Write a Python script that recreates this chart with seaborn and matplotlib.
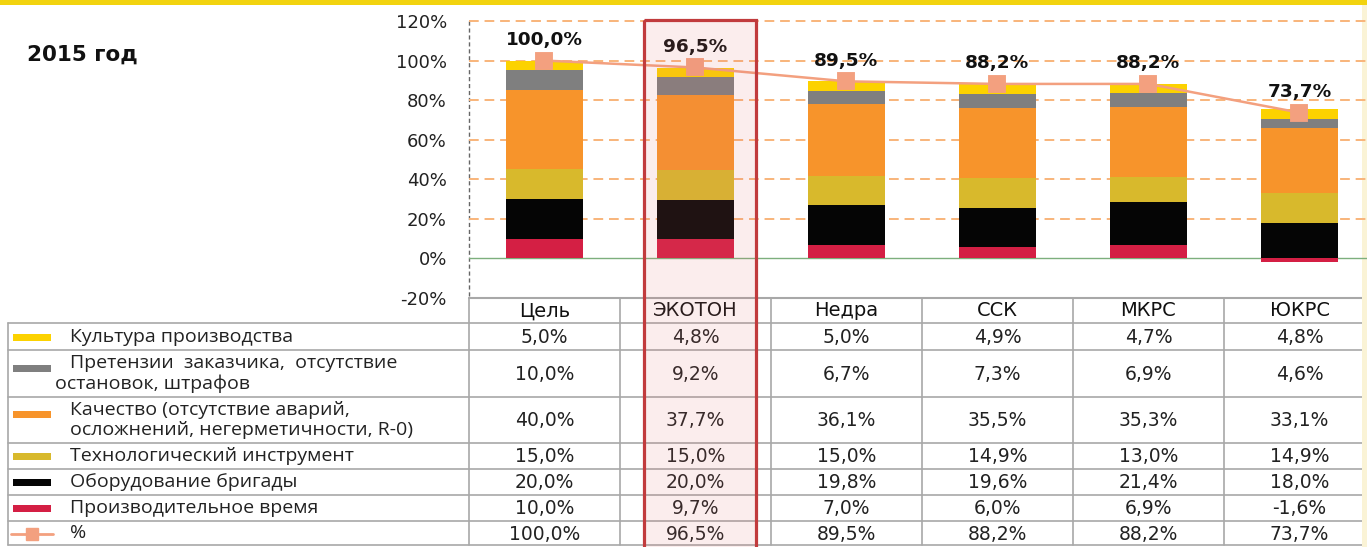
import numpy as np
import seaborn as sns
import matplotlib.pyplot as plt
from matplotlib.patches import Rectangle
from matplotlib.lines import Line2D

# Data (percent)
companies = ['Цель', 'ЭКОТОН', 'Недра', 'ССК', 'МКРС', 'ЮКРС']
culture = [5.0, 4.8, 5.0, 4.9, 4.7, 4.8]
claims = [10.0, 9.2, 6.7, 7.3, 6.9, 4.6]
quality = [40.0, 37.7, 36.1, 35.5, 35.3, 33.1]
tools = [15.0, 15.0, 15.0, 14.9, 13.0, 14.9]
equipment = [20.0, 20.0, 19.8, 19.6, 21.4, 18.0]
productive = [10.0, 9.7, 7.0, 6.0, 6.9, -1.6]
total = [100.0, 96.5, 89.5, 88.2, 88.2, 73.7]

row_labels = [
    ['Культура производства'],
    ['Претензии  заказчика,  отсутствие', 'остановок, штрафов'],
    ['Качество (отсутствие аварий,', 'осложнений, негерметичности, R-0)'],
    ['Технологический инструмент'],
    ['Оборудование бригады'],
    ['Производительное время'],
    ['%'],
]
colors = ['#FCD200', '#7F7F7F', '#F7942B', '#D8B92C', '#050505', '#D41F44']
line_color = '#F3A07F'

sns.set_style('white')
plt.rcParams['font.family'] = ['DejaVu Sans']

W, H = 1367, 547
fig = plt.figure(figsize=(W / 100, H / 100), dpi=100)

# background axes in pixel coordinates for the table and decorations
bg = fig.add_axes([0, 0, 1, 1])
bg.set_xlim(0, W)
bg.set_ylim(H, 0)
bg.axis('off')

bg.add_patch(Rectangle((0, 0), W, 5, color='#F2D30F', lw=0))
bg.add_patch(Rectangle((1362, 5), 5, H, color='#FAF3D6', lw=0, zorder=5))
bg.text(27, 55, '2015 год', fontsize=15.5, fontweight='bold', va='center', color='#111111')

# chart axes
left_px, col_w = 469, 151
top_px, bot_px = 21, 298
ax = fig.add_axes([left_px / W, (H - bot_px) / H, 6 * col_w / W, (bot_px - top_px) / H])
ax.patch.set_alpha(0)

# stacked bars: draw cumulative heights from top layer down
layers = [productive, equipment, tools, quality, claims, culture]
layer_colors = colors[::-1]
pos = np.clip(np.array(layers), 0, None)
cum = np.cumsum(pos, axis=0)
for k in range(len(layers) - 1, 0, -1):
    sns.barplot(x=companies, y=cum[k], color=layer_colors[k], width=0.51,
                saturation=1, linewidth=0, ax=ax, zorder=2)
sns.barplot(x=companies, y=productive, color=layer_colors[0], width=0.51,
            saturation=1, linewidth=0, ax=ax, zorder=2)

sns.pointplot(x=companies, y=total, color=line_color, markers='s', markersize=11,
              linewidth=1.8, errorbar=None, ax=ax, zorder=4)

for i, v in enumerate(total):
    ax.text(i, v + 10.5, f'{v:.1f}%'.replace('.', ','), ha='center', va='center',
            fontsize=13.3, fontweight='bold', color='#111111', zorder=5)

ax.set_ylim(-20, 120)
ax.set_xlim(-0.5, 5.5)
ax.set_yticks(range(-20, 121, 20))
ax.set_yticklabels([f'{t}%' for t in range(-20, 121, 20)], fontsize=13, color='#222222')
ax.tick_params(axis='y', length=0, pad=16)
ax.set_xticks([])
ax.set_xlabel('')
ax.set_ylabel('')
for s in ax.spines.values():
    s.set_visible(False)
for t in range(20, 121, 20):
    ax.axhline(t, color='#F8B47A', lw=1.4, ls=(0, (5, 3)), zorder=1, clip_on=False)
ax.axhline(0, color='#7DAF7D', lw=1, zorder=1)

# left dashed axis line
bg.plot([left_px, left_px], [top_px, bot_px], color='#666666', lw=1, ls=(0, (3, 2)))

# table
grid_c = '#A8A8A8'
row_edges = [323, 350, 397, 443, 469, 495, 521, 545]
right_px = left_px + 6 * col_w
bg.plot([left_px, right_px], [bot_px, bot_px], color=grid_c, lw=1.5)
for y in row_edges:
    bg.plot([8, right_px], [y, y], color=grid_c, lw=1.2)
bg.plot([8, 8], [row_edges[0], row_edges[-1]], color=grid_c, lw=1.2)
for j in range(7):
    x = left_px + j * col_w
    bg.plot([x, x], [bot_px, row_edges[-1]], color=grid_c, lw=1.2)

for j, name in enumerate(companies):
    bg.text(left_px + (j + 0.5) * col_w, 311, name, ha='center', va='center',
            fontsize=14, color='#111111')

table_rows = [culture, claims, quality, tools, equipment, productive, total]
for r, vals in enumerate(table_rows):
    yc = (row_edges[r] + row_edges[r + 1]) / 2 + 1
    for j, v in enumerate(vals):
        bg.text(left_px + (j + 0.5) * col_w, yc, f'{v:.1f}%'.replace('.', ','),
                ha='center', va='center', fontsize=13.5, color='#222222')
    # legend swatch
    if r < 6:
        bg.add_patch(Rectangle((13, yc - 4 - (6 if len(row_labels[r]) > 1 else 0)), 38, 7,
                               color=colors[r], lw=0))
    else:
        bg.add_line(Line2D([11, 53], [yc, yc], color=line_color, lw=2))
        bg.add_line(Line2D([32], [yc], marker='s', markersize=9, color=line_color))
    lines = row_labels[r]
    if len(lines) == 1:
        bg.text(70, yc - 1, lines[0], ha='left', va='center', fontsize=14,
                family='Open Sans', color='#222222')
    else:
        x2 = 55 if r == 1 else 70
        bg.text(70, yc - 11, lines[0], ha='left', va='center', fontsize=14,
                family='Open Sans', color='#222222')
        bg.text(x2, yc + 9, lines[1], ha='left', va='center', fontsize=14,
                family='Open Sans', color='#222222')

# highlight of the ЭКОТОН column
ov = fig.add_axes([0, 0, 1, 1])
ov.set_xlim(0, W)
ov.set_ylim(H, 0)
ov.axis('off')
ov.add_patch(Rectangle((644, 20), 112, 540, facecolor='#E07070', alpha=0.12, lw=0))
ov.add_patch(Rectangle((644, 20), 112, 540, fill=False, edgecolor='#C13B3D', lw=2.3))

fig.savefig('out.png', dpi=100)
